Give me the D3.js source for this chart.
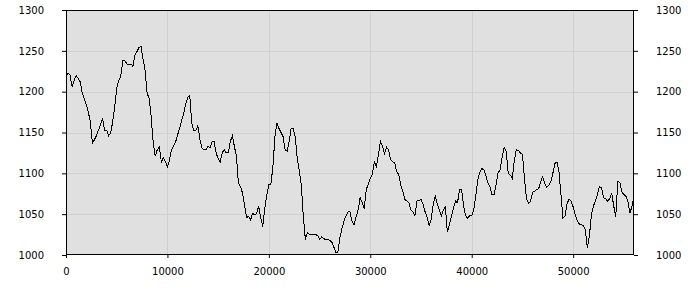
<!DOCTYPE html>
<html>
<head>
<meta charset="utf-8">
<script src="https://cdn.jsdelivr.net/npm/d3@7"></script>
<style>
  body { margin: 0; background: #ffffff; }
  svg { display: block; }
</style>
</head>
<body>
<svg id="chart"></svg>
<script>
// one sample every 200 units along x
const STEP = 200;
const VALUES = [
    1218, 1223, 1220, 1206, 1214, 1220, 1216, 1212, 1198, 1192,
    1184, 1175, 1163, 1137, 1141, 1146, 1153, 1159, 1168, 1153,
    1153, 1146, 1149, 1163, 1181, 1204, 1214, 1219, 1238, 1238,
    1234, 1233, 1234, 1231, 1245, 1249, 1254, 1255, 1240, 1226,
    1198, 1192, 1169, 1137, 1121, 1129, 1132, 1114, 1119, 1114,
    1108, 1116, 1129, 1133, 1138, 1147, 1155, 1165, 1173, 1185,
    1193, 1195, 1161, 1152, 1152, 1158, 1142, 1131, 1129, 1129,
    1133, 1131, 1139, 1139, 1125, 1118, 1114, 1125, 1129, 1125,
    1125, 1139, 1146, 1133, 1121, 1088, 1084, 1076, 1062, 1046,
    1047, 1043, 1051, 1049, 1051, 1060, 1045, 1035, 1057, 1074,
    1086, 1087, 1108, 1145, 1162, 1155, 1150, 1145, 1129, 1127,
    1139, 1155, 1155, 1145, 1118, 1103, 1085, 1047, 1019, 1027,
    1025, 1025, 1025, 1025, 1024, 1019, 1022, 1020, 1019, 1019,
    1018, 1016, 1010, 1003, 1003, 1021, 1032, 1041, 1048, 1053,
    1053, 1041, 1037, 1047, 1055, 1070, 1064, 1057, 1080, 1087,
    1094, 1099, 1114, 1108, 1123, 1139, 1133, 1124, 1132, 1129,
    1117, 1114, 1113, 1102, 1099, 1086, 1078, 1068, 1066, 1064,
    1055, 1053, 1048, 1066, 1067, 1068, 1062, 1053, 1046, 1036,
    1043, 1062, 1072, 1063, 1056, 1048, 1055, 1059, 1028, 1037,
    1047, 1058, 1066, 1064, 1080, 1080, 1060, 1048, 1045, 1048,
    1048, 1055, 1072, 1092, 1101, 1106, 1104, 1097, 1088, 1083,
    1074, 1074, 1086, 1101, 1104, 1120, 1132, 1127, 1100, 1098,
    1094, 1116, 1129, 1128, 1125, 1123, 1094, 1069, 1063, 1066,
    1077, 1078, 1080, 1081, 1090, 1096, 1088, 1083, 1085, 1090,
    1100, 1112, 1114, 1102, 1074, 1045, 1048, 1063, 1068, 1066,
    1059, 1049, 1042, 1038, 1037, 1036, 1031, 1009, 1023, 1049,
    1060, 1066, 1074, 1084, 1082, 1070, 1069, 1066, 1069, 1076,
    1060, 1047, 1090, 1089, 1077, 1074, 1072, 1066, 1051, 1060,
    1072
];
const X_TICKS = [0, 10000, 20000, 30000, 40000, 50000];
const Y_TICKS = [1000, 1050, 1100, 1150, 1200, 1250, 1300];

const WIDTH = 700;
const HEIGHT = 300;
const LEFT = 66, RIGHT = 634, TOP = 10, BOTTOM = 255;

window.onload = function(){
    let svg = d3.select("#chart")
        .attr("width", WIDTH)
        .attr("height", HEIGHT);

    let xScale = d3.scaleLinear()
        .domain([0, 56000])
        .range([LEFT, RIGHT]);

    let yScale = d3.scaleLinear()
        .domain([1000, 1300])
        .range([BOTTOM, TOP]);

    // plot background
    svg.append("rect")
        .attr("x", LEFT)
        .attr("y", TOP)
        .attr("width", RIGHT - LEFT)
        .attr("height", BOTTOM - TOP)
        .style("fill", "#e0e0e0");

    // grid lines
    svg.append("g")
        .selectAll("line")
        .data(X_TICKS.slice(1))
        .enter()
        .append("line")
        .attr("x1", function(d) { return Math.round(xScale(d)) + 0.5; })
        .attr("x2", function(d) { return Math.round(xScale(d)) + 0.5; })
        .attr("y1", TOP)
        .attr("y2", BOTTOM)
        .style("stroke", "#d0d0d0");

    svg.append("g")
        .selectAll("line")
        .data(Y_TICKS.slice(1, -1))
        .enter()
        .append("line")
        .attr("x1", LEFT)
        .attr("x2", RIGHT)
        .attr("y1", function(d) { return Math.round(yScale(d)) + 0.5; })
        .attr("y2", function(d) { return Math.round(yScale(d)) + 0.5; })
        .style("stroke", "#d0d0d0");

    // the series
    let line = d3.line()
        .x(function(d, i) { return xScale(i * STEP); })
        .y(function(d) { return yScale(d); });

    svg.append("path")
        .datum(VALUES)
        .attr("d", line)
        .style("fill", "none")
        .style("stroke", "#000")
        .style("stroke-width", 1)
        .style("shape-rendering", "crispEdges");

    // frame
    svg.append("rect")
        .attr("x", LEFT + 0.5)
        .attr("y", TOP + 0.5)
        .attr("width", RIGHT - LEFT - 1)
        .attr("height", BOTTOM - TOP - 1)
        .style("fill", "none")
        .style("stroke", "#000");

    // axes
    let fmt = d3.format("d");
    let font = function(g) {
        g.select(".domain").remove();
        g.selectAll("text")
            .attr("font-family", "DejaVu Sans, sans-serif")
            .attr("font-size", "10px")
            .attr("fill", "#000");
    };

    svg.append("g")
        .attr("transform", `translate(0,${BOTTOM})`)
        .call(d3.axisBottom(xScale).tickValues(X_TICKS).tickFormat(fmt).tickSize(3).tickPadding(10))
        .call(font);

    svg.append("g")
        .attr("transform", `translate(${LEFT},0)`)
        .call(d3.axisLeft(yScale).tickValues(Y_TICKS).tickFormat(fmt).tickSize(4).tickPadding(18))
        .call(font);

    svg.append("g")
        .attr("transform", `translate(${RIGHT},0)`)
        .call(d3.axisRight(yScale).tickValues(Y_TICKS).tickFormat(fmt).tickSize(4).tickPadding(18))
        .call(font);
};
</script>
</body>
</html>
